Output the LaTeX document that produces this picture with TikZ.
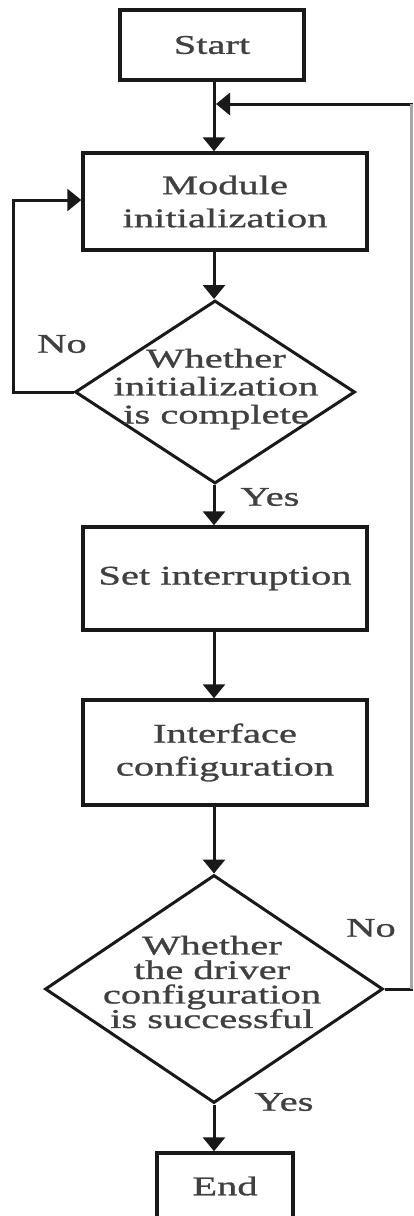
\documentclass[tikz,border=0pt]{standalone}
\usepackage{fontspec}
\setmainfont{Liberation Serif}[FakeStretch=1.5,FakeBold=1]
\usetikzlibrary{arrows.meta,shapes.geometric,calc}
\newcommand\mytightls{\lineskiplimit=-50pt\relax}
\begin{document}
\begin{tikzpicture}[x=1pt,y=-1pt,
  box/.style={draw=black!90, line width=3.5pt, fill=white, inner sep=0pt},
  dia/.style={diamond, draw=black!90, line width=3pt, inner sep=0pt},
  txt/.style={text=black!75, align=center, font=\fontsize{27}{33}\selectfont},
  arr/.style={line width=3pt, draw=black!90, -{Triangle[width=22pt,length=14pt]}},
  ln/.style={line width=3pt, draw=black!90}]
\useasboundingbox (0,0) rectangle (413,1216);
\clip (0,0) rectangle (413,1216);
\fill[white] (0,0) rectangle (413,1216);

\coordinate (cx) at (214,0);

\node[box, txt, minimum width=184pt, minimum height=70pt] (start) at (212,45) {Start};
\node[box, txt, minimum width=284pt, minimum height=97pt] (mod) at (225,201.5) {Module\\initialization};
\node[dia, minimum width=280pt, minimum height=183pt] (d1) at (215,392) {};
\node[txt, font={\fontsize{27}{28}\selectfont\mytightls}] (d1t) at (216,389) {Whether\\initialization\\is complete};
\node[box, txt, minimum width=284pt, minimum height=103pt] (set) at (225,578.5) {Set interruption};
\node[box, txt, minimum width=284pt, minimum height=105pt] (intf) at (225,752.5) {Interface\\configuration};
\node[dia, minimum width=338pt, minimum height=228pt] (d2) at (214,989) {};
\node[txt, font={\fontsize{27}{24.5}\selectfont\mytightls}] (d2t) at (212,982) {Whether\\the driver\\configuration\\is successful};
\node[box, txt, minimum width=136pt, minimum height=66pt] (end) at (225,1186) {End};

\node[txt] (no1) at (62,344) {No};
\node[txt] (yes1) at (270,497) {Yes};
\node[txt] (no2) at (371,928) {No};
\node[txt] (yes2) at (284,1102) {Yes};

\coordinate (l2) at (13,200);
\coordinate (r1) at (411,989);
\coordinate (r2) at (411,104);
\coordinate (j) at (216,104);

\draw[arr] (start.south -| cx) -- (mod.north -| cx);
\draw[arr] (mod.south -| cx) -- (d1.north -| cx);
\draw[arr] (d1.south -| cx) -- (set.north -| cx);
\draw[arr] (set.south -| cx) -- (intf.north -| cx);
\draw[arr] (intf.south -| cx) -- (d2.north -| cx);
\draw[arr] (d2.south -| cx) -- (end.north -| cx);

\draw[arr] (d1.west) -| (l2) -- (mod.west |- l2);
\draw[arr] (d2.east) -- (r1) -- (r2) -- (j);
\draw[line width=3pt, draw=gray!70] (r1) -- (r2);
\end{tikzpicture}
\end{document}
